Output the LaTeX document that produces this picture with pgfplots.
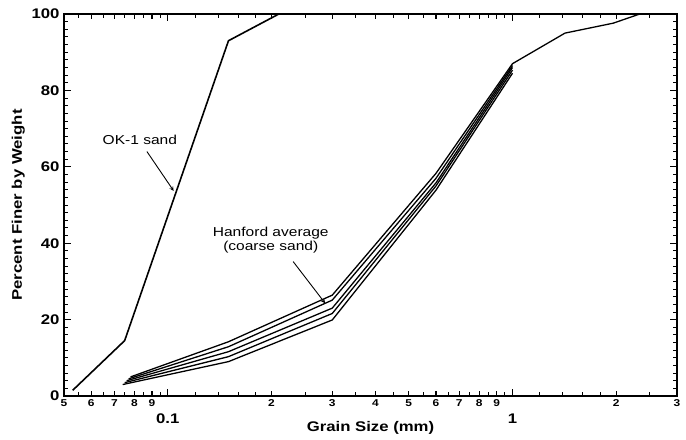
\documentclass[border=0pt]{standalone}
\usepackage{fontspec}
\setmainfont{Liberation Sans}
\newfontfamily\wide[FakeStretch=1.2]{Liberation Sans}
\usepackage{pgfplots}
\pgfplotsset{compat=1.18}
\begin{document}
\begin{tikzpicture}
\useasboundingbox (-64bp,-44bp) rectangle (622bp,396bp);
\begin{axis}[
    at={(0,0)}, anchor=south west,
    scale only axis, width=613bp, height=382bp,
    xmode=log,
    xmin=0.05, xmax=3, ymin=0, ymax=100,
    axis line style={line width=1.3pt},
    tick align=inside, xtick pos=both, ytick pos=both,
    major tick style={black, line width=1.2pt},
    minor tick style={black, line width=0.9pt},
    major tick length=7bp, minor tick length=4bp,
    /pgf/number format/assume math mode=true,
    ytick={0,20,40,60,80,100}, minor y tick num=9,
    yticklabel style={font=\wide\bfseries\fontsize{14}{14}\selectfont, xshift=-1bp},
    xtick={0.1,1}, xticklabels={0.1,1},
    xticklabel style={font=\wide\bfseries\fontsize{14}{14}\selectfont, yshift=-14bp},
    minor xtick={0.055,0.065,0.075,0.085,0.095,0.12,0.14,0.16,0.18,0.25,0.35,0.45,0.55,0.65,0.75,0.85,0.95,1.2,1.4,1.6,1.8,2.5},
    extra x ticks={0.05,0.06,0.07,0.08,0.09,0.2,0.3,0.4,0.5,0.6,0.7,0.8,0.9,2,3},
    extra x tick labels={5,6,7,8,9,2,3,4,5,6,7,8,9,2,3},
    extra x tick style={major tick length=5bp,
        xticklabel style={font=\wide\bfseries\fontsize{10}{10}\selectfont, yshift=14bp}},
    xlabel={Grain Size (mm)},
    ylabel={Percent Finer by Weight},
    xlabel style={font=\wide\bfseries\fontsize{14}{14}\selectfont, yshift=9bp},
    ylabel style={font=\wide\bfseries\fontsize{14}{14}\selectfont, yshift=0bp},
    clip=false,
]
% OK-1 sand
\addplot[black, line width=1.6pt] coordinates {(0.053,1.5) (0.075,14.5) (0.15,93) (0.21,100)};
% Hanford samples
\addplot[black, line width=1.3pt] coordinates {(0.078,5) (0.15,14.2) (0.3,26.4) (0.6,58.3) (1.0,87) (1.42,95) (1.96,97.6) (2.34,100)};
\addplot[black, line width=1.3pt] coordinates {(0.077,4.5) (0.15,12.9) (0.3,25.1) (0.6,57) (1.0,86.5)};
\addplot[black, line width=1.3pt] coordinates {(0.076,4) (0.15,11.6) (0.3,23) (0.6,55.8) (1.0,86)};
\addplot[black, line width=1.3pt] coordinates {(0.075,3.5) (0.15,10.3) (0.3,21.6) (0.6,55) (1.0,85.3)};
\addplot[black, line width=1.3pt] coordinates {(0.074,3) (0.15,9) (0.3,19.9) (0.6,53.9) (1.0,84.5)};
% labels
\node[font=\wide\fontsize{13}{13}\selectfont] at (axis cs:0.083,67) {OK-1 sand};
\draw[-stealth, line width=0.9pt] (axis cs:0.087,64) -- (axis cs:0.104,53.7);
\node[font=\wide\fontsize{13}{15}\selectfont, align=center] at (axis cs:0.199,40.8) {Hanford average\\(coarse sand)};
\draw[-stealth, line width=0.9pt] (axis cs:0.231,35.2) -- (axis cs:0.286,24.3);
\end{axis}
\end{tikzpicture}
\end{document}
